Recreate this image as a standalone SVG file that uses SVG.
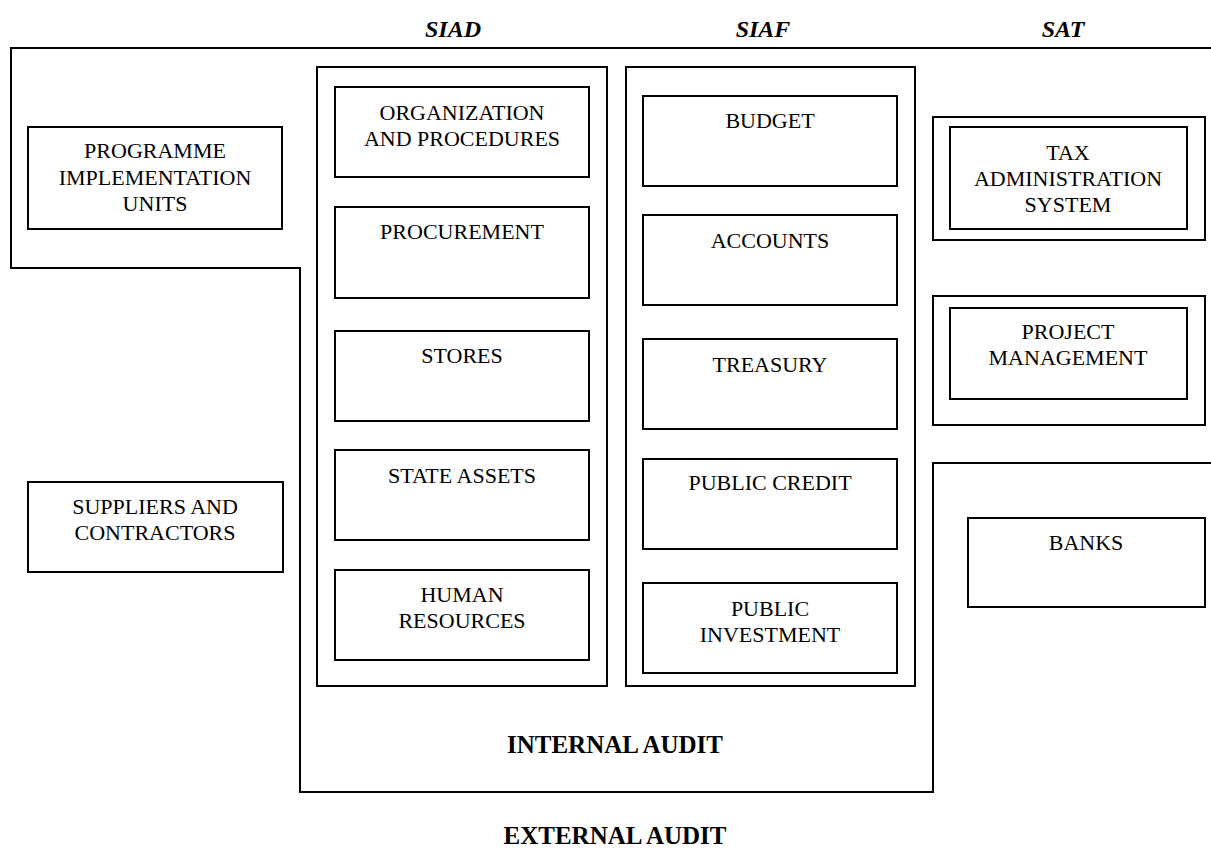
<svg xmlns="http://www.w3.org/2000/svg" width="1211" height="850" viewBox="0 0 1211 850">
  <style>
    .box { fill: none; stroke: #000; stroke-width: 2; }
    .frame { fill: none; stroke: #000; stroke-width: 2; }
    .lbl { font-family: "Liberation Serif", "Times New Roman", serif; font-size: 22px; fill: #000; text-anchor: middle; }
    .head { font-family: "Liberation Serif", "Times New Roman", serif; font-size: 24px; font-weight: bold; font-style: italic; fill: #000; text-anchor: middle; }
    .audit { font-family: "Liberation Serif", "Times New Roman", serif; font-size: 25px; font-weight: bold; fill: #000; text-anchor: middle; }
  </style>
  <rect width="1211" height="850" fill="#fff"/>

  <!-- system headings -->
  <g id="headings">
    <text class="head" x="453" y="37">SIAD</text>
    <text class="head" x="763" y="37">SIAF</text>
    <text class="head" x="1063" y="37">SAT</text>
  </g>

  <!-- audit boundaries -->
  <g id="connectors">
    <path class="frame" d="M1211,48 H11 V268 H300 V792 H933 V463 H1211"/>
  </g>

  <g id="external-audit">
    <text class="audit" x="615" y="844">EXTERNAL AUDIT</text>
  </g>
  <g id="internal-audit">
    <text class="audit" x="615" y="753">INTERNAL AUDIT</text>
  </g>

  <!-- left column -->
  <g id="programme-units">
    <rect class="box" x="28" y="127" width="254" height="102"/>
    <text class="lbl" x="155" y="158">PROGRAMME</text>
    <text class="lbl" x="155" y="185">IMPLEMENTATION</text>
    <text class="lbl" x="155" y="211">UNITS</text>
  </g>
  <g id="suppliers">
    <rect class="box" x="28" y="482" width="255" height="90"/>
    <text class="lbl" x="155" y="514">SUPPLIERS AND</text>
    <text class="lbl" x="155" y="540">CONTRACTORS</text>
  </g>

  <!-- SIAD column -->
  <g id="siad">
    <rect class="box" x="317" y="67" width="290" height="619"/>
  </g>
  <g id="org-procedures">
    <rect class="box" x="335" y="87" width="254" height="90"/>
    <text class="lbl" x="462" y="120">ORGANIZATION</text>
    <text class="lbl" x="462" y="146">AND PROCEDURES</text>
  </g>
  <g id="procurement">
    <rect class="box" x="335" y="207" width="254" height="91"/>
    <text class="lbl" x="462" y="239">PROCUREMENT</text>
  </g>
  <g id="stores">
    <rect class="box" x="335" y="331" width="254" height="90"/>
    <text class="lbl" x="462" y="363">STORES</text>
  </g>
  <g id="state-assets">
    <rect class="box" x="335" y="450" width="254" height="90"/>
    <text class="lbl" x="462" y="483">STATE ASSETS</text>
  </g>
  <g id="human-resources">
    <rect class="box" x="335" y="570" width="254" height="90"/>
    <text class="lbl" x="462" y="602">HUMAN</text>
    <text class="lbl" x="462" y="628">RESOURCES</text>
  </g>

  <!-- SIAF column -->
  <g id="siaf">
    <rect class="box" x="626" y="67" width="289" height="619"/>
  </g>
  <g id="budget">
    <rect class="box" x="643" y="96" width="254" height="90"/>
    <text class="lbl" x="770" y="128">BUDGET</text>
  </g>
  <g id="accounts">
    <rect class="box" x="643" y="215" width="254" height="90"/>
    <text class="lbl" x="770" y="248">ACCOUNTS</text>
  </g>
  <g id="treasury">
    <rect class="box" x="643" y="339" width="254" height="90"/>
    <text class="lbl" x="770" y="372">TREASURY</text>
  </g>
  <g id="public-credit">
    <rect class="box" x="643" y="459" width="254" height="90"/>
    <text class="lbl" x="770" y="490">PUBLIC CREDIT</text>
  </g>
  <g id="public-investment">
    <rect class="box" x="643" y="583" width="254" height="90"/>
    <text class="lbl" x="770" y="616">PUBLIC</text>
    <text class="lbl" x="770" y="642">INVESTMENT</text>
  </g>

  <!-- SAT column -->
  <g id="tax-administration">
    <rect class="box" x="933" y="117" width="272" height="123"/>
    <rect class="box" x="950" y="127" width="237" height="102"/>
    <text class="lbl" x="1068" y="160">TAX</text>
    <text class="lbl" x="1068" y="186">ADMINISTRATION</text>
    <text class="lbl" x="1068" y="212">SYSTEM</text>
  </g>
  <g id="project-management">
    <rect class="box" x="933" y="296" width="272" height="129"/>
    <rect class="box" x="950" y="308" width="237" height="91"/>
    <text class="lbl" x="1068" y="339">PROJECT</text>
    <text class="lbl" x="1068" y="365">MANAGEMENT</text>
  </g>
  <g id="banks">
    <rect class="box" x="968" y="518" width="237" height="89"/>
    <text class="lbl" x="1086" y="550">BANKS</text>
  </g>
</svg>
